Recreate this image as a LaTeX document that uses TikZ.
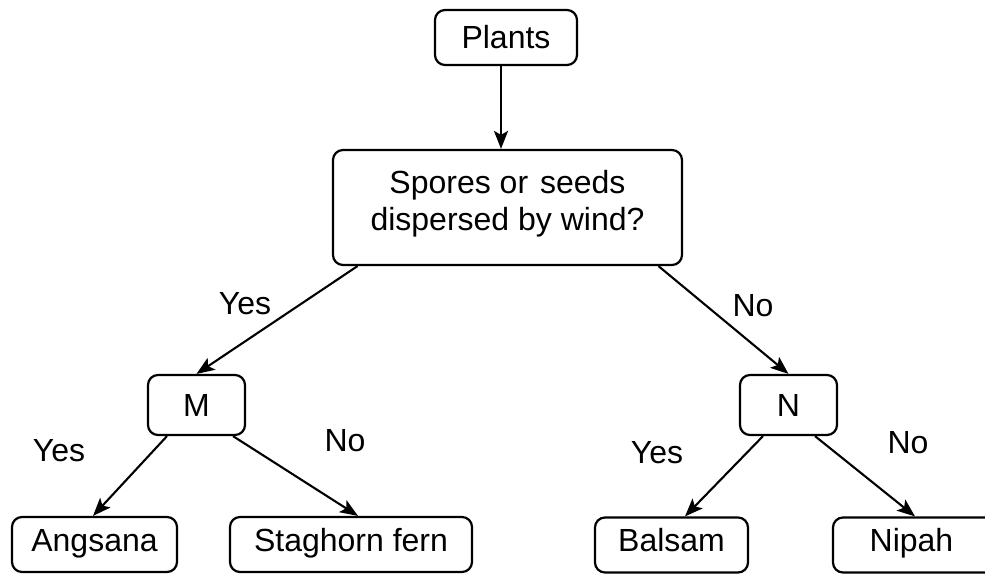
\documentclass[tikz,border=0pt]{standalone}
\usepackage{fontspec}
\setmainfont{Liberation Sans}
\usetikzlibrary{arrows.meta,calc}
\begin{document}
\begin{tikzpicture}[x=1pt,y=-1pt,
  every node/.style={font=\fontsize{32}{37}\selectfont},
  box/.style={draw,line width=2.2pt,rounded corners=10pt,inner sep=0pt,
    text height=22pt,text depth=0pt},
  leaf/.style={box,minimum height=55pt,text depth=9pt},
  arr/.style={line width=2.1pt,-{Stealth[length=18pt,width=14pt,inset=4pt]}},
  lbl/.style={inner sep=0pt,text height=22pt,text depth=0pt}]
\useasboundingbox (0,0) rectangle (985,574);
\node[box,minimum width=142pt,minimum height=55pt] (plants) at (506,37.5) {Plants};
\node[box,minimum width=349pt,minimum height=115pt,align=center,text height=,text depth=15pt] (sp) at (507.5,207.5) {Spores or\hspace{3pt} seeds\\dispersed by wind?};
\node[box,minimum width=97pt,minimum height=60pt] (m) at (196.5,405) {M};
\node[box,minimum width=97pt,minimum height=60pt] (n) at (788.5,405) {N};
\node[leaf,minimum width=165pt] (ang) at (94.5,544.5) {Angsana};
\node[leaf,minimum width=242pt] (stag) at (351,544.5) {Staghorn fern};
\node[leaf,minimum width=153pt] (bal) at (671.5,545) {Balsam};
\node[leaf,minimum width=190pt] (nip) at (928,545) {Nipah\rule{33pt}{0pt}};
\draw[arr] ($(plants.south)+(-5,0)$) -- ($(sp.north)+(-6.5,0)$);
\draw[arr] ($(sp.south)+(-150,0)$) -- (m.north);
\draw[arr] ($(sp.south)+(151,0)$) -- (n.north);
\draw[arr] ($(m.south)+(-29.5,0)$) -- ($(ang.north)+(-1.5,0)$);
\draw[arr] ($(m.south)+(36.5,0)$) -- ($(stag.north)+(7,0)$);
\draw[arr] ($(n.south)+(-25.5,0)$) -- ($(bal.north)+(13.5,0)$);
\draw[arr] ($(n.south)+(26.5,0)$) -- ($(nip.north)+(-13,0)$);
\node[lbl] (l1) at (245,303) {Yes};
\node[lbl] (l2) at (753,305) {No};
\node[lbl] (l3) at (59,450) {Yes};
\node[lbl] (l4) at (345,440) {No};
\node[lbl] (l5) at (657,452) {Yes};
\node[lbl] (l6) at (908,442) {No};
\end{tikzpicture}
\end{document}
